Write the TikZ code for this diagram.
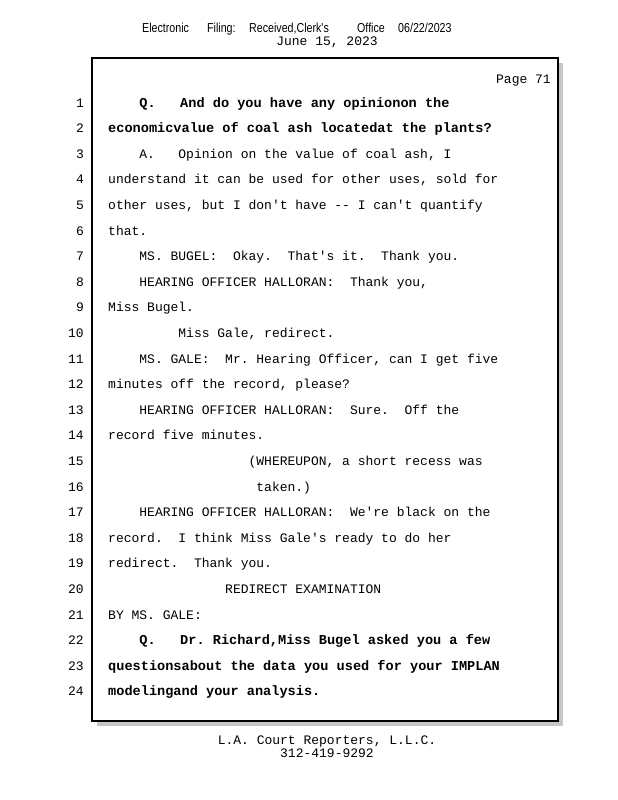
\documentclass[tikz,border=0pt]{standalone}
\usepackage{fontspec}
\setmonofont{Liberation Mono}
\newfontfamily\narrowsans[FakeStretch=0.82]{Liberation Sans}
\usepackage{tikz}
\usetikzlibrary{calc}

\begin{document}
\begin{tikzpicture}[x=1pt,y=-1pt]
\tikzstyle{plain}=[inner sep=0pt,anchor=base west,font=\fontsize{13}{13}\selectfont\ttfamily]
\tikzstyle{heavy}=[plain,font=\fontsize{13.6}{13.6}\selectfont\ttfamily\bfseries]
\tikzstyle{lineno}=[inner sep=0pt,anchor=base east,font=\fontsize{13}{13}\selectfont\ttfamily]
\tikzstyle{stamp}=[inner sep=0pt,anchor=base west,font=\fontsize{13}{13}\selectfont\narrowsans]
\tikzstyle{centred}=[inner sep=0pt,anchor=base,font=\fontsize{13}{13}\selectfont\ttfamily]

\def\lh{25.6}
\def\cw{7.8}
\useasboundingbox (0,0) rectangle (618,800);

% header
\foreach \x/\w [count=\i] in {142/Electronic,207/Filing:,249/{Received,Clerk's},357/Office,398/{06/22/2023}}
  \node[stamp] (head\i) at (\x,33) {\w};
\node[centred] (date) at (327,46) {June 15, 2023};

% page box with shadow
\fill[gray!45] (97,63) rectangle (563,726);
\draw[fill=white,line width=1.2pt] (92,58) rectangle (558,721);
\node[plain,anchor=base east] (page) at (551,83) {Page 71};

% line numbers
\foreach \n in {1,...,24}
  \node[lineno] (n\n) at (84,107+\lh*\n-\lh) {\n};

% testimony
\foreach \n/\ind/\txt in {
  3/4/{A.~~~Opinion on the value of coal ash, I},
  4/0/{understand it can be used for other uses, sold for},
  5/0/{other uses, but I don't have -- I can't quantify},
  6/0/{that.},
  7/4/{MS. BUGEL:~ Okay.~ That's it.~ Thank you.},
  8/4/{HEARING OFFICER HALLORAN:~ Thank you,},
  9/0/{Miss Bugel.},
  10/9/{Miss Gale, redirect.},
  11/4/{MS. GALE:~ Mr. Hearing Officer, can I get five},
  12/0/{minutes off the record, please?},
  13/4/{HEARING OFFICER HALLORAN:~ Sure.~ Off the},
  14/0/{record five minutes.},
  15/18/{(WHEREUPON, a short recess was},
  16/19/{taken.)},
  17/4/{HEARING OFFICER HALLORAN:~ We're black on the},
  18/0/{record.~ I think Miss Gale's ready to do her},
  19/0/{redirect.~ Thank you.},
  20/15/{REDIRECT EXAMINATION},
  21/0/{BY MS. GALE:}}
  \node[plain] (t\n) at (108+\cw*\ind,107+\lh*\n-\lh) {\txt};

% questions
\foreach \n/\ind/\txt in {
  1/4/{Q.~~~And do you have any opinionon the},
  2/0/{economicvalue of coal ash locatedat the plants?},
  22/4/{Q.~~~Dr. Richard,Miss Bugel asked you a few},
  23/0/{questionsabout the data you used for your IMPLAN},
  24/0/{modelingand your analysis.}}
  \node[heavy] (t\n) at (108+\cw*\ind,107+\lh*\n-\lh) {\txt};

% footer
\node[centred] (firm) at (327,744) {L.A. Court Reporters, L.L.C.};
\node[centred] (phone) at (327,757) {312-419-9292};
\end{tikzpicture}
\end{document}
